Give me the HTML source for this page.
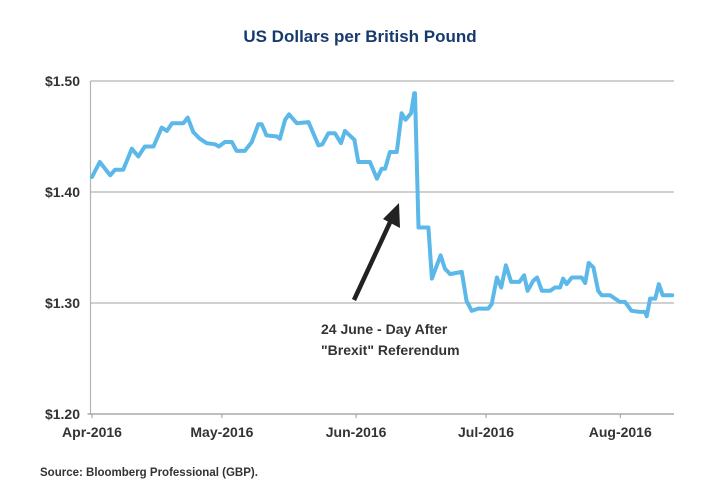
<!DOCTYPE html>
<html><head><meta charset="utf-8"><style>
html,body{margin:0;padding:0;background:#fff;width:720px;height:500px;overflow:hidden}
svg text{font-family:"Liberation Sans",sans-serif}
</style></head><body>
<svg id="chart" width="720" height="500" xmlns="http://www.w3.org/2000/svg">
<text x="360" y="42" text-anchor="middle" font-size="17" font-weight="bold" fill="#173a6e">US Dollars per British Pound</text>
<g id="grid"></g><g id="axes"></g><g id="series"></g>
<g>
<line x1="354" y1="300" x2="392" y2="218" stroke="#222" stroke-width="4.5"/>
<polygon points="399,203 400,228 383,219" fill="#222"/>
<text x="321" y="334" font-size="14" font-weight="bold" fill="#333">24 June - Day After</text>
<text x="321" y="355" font-size="14" font-weight="bold" fill="#333">"Brexit" Referendum</text>
</g>
<text x="40" y="476" font-size="11.5" font-weight="bold" fill="#333">Source: Bloomberg Professional (GBP).</text>
</svg>
<script>
const yTicks=[1.20,1.30,1.40,1.50];
const yTickLabels=["$1.20","$1.30","$1.40","$1.50"];
const xTickDays=[0,30,61,91,122];
const xTickLabels=["Apr-2016","May-2016","Jun-2016","Jul-2016","Aug-2016"];
const days=[0,1.8,4.2,5.3,7.2,9.2,10.7,12.2,14.2,16.1,17.3,18.5,21.1,22.1,23.4,24.9,26.5,28.4,29.3,30.7,32.3,33.4,35.3,36.9,38.4,39.2,40.3,42.7,43.4,44.6,45.5,47.3,50,52.3,53.2,54.6,56.1,57.5,58.4,60.6,61.5,64.2,65.8,66.9,67.7,68.8,70.4,71.5,72.4,73.7,74.4,74.6,75.4,77.7,78.5,80.5,81.5,82.7,85.4,86.5,87.7,89.2,91.5,92.3,93.5,94.5,95.6,96.8,98.7,99.8,100.6,101.9,102.8,103.9,105.8,106.9,108.1,108.8,109.6,110.8,113.1,113.9,114.7,115.8,116.9,117.7,119.6,121.9,123.1,124.6,126.5,127.7,128.1,128.9,130.1,130.9,131.8,134];
const rates=[1.4135,1.427,1.415,1.420,1.420,1.439,1.432,1.441,1.441,1.458,1.455,1.462,1.462,1.467,1.454,1.448,1.444,1.443,1.441,1.445,1.445,1.437,1.437,1.445,1.461,1.461,1.451,1.450,1.448,1.465,1.470,1.462,1.463,1.442,1.443,1.453,1.453,1.444,1.455,1.447,1.427,1.427,1.412,1.421,1.421,1.436,1.436,1.471,1.465,1.471,1.489,1.489,1.368,1.368,1.322,1.343,1.331,1.326,1.328,1.302,1.293,1.295,1.295,1.299,1.323,1.314,1.334,1.319,1.319,1.325,1.311,1.320,1.323,1.311,1.311,1.314,1.314,1.322,1.317,1.323,1.323,1.318,1.336,1.332,1.311,1.307,1.307,1.301,1.301,1.293,1.292,1.292,1.288,1.304,1.304,1.317,1.307,1.307];
const L=90.5,R=674,T=81,B=414,PXD=4.33;
const xS=d=>L+1.5+d*PXD;
const yS=v=>B-(v-1.2)/0.3*(B-T);
const NS="http://www.w3.org/2000/svg";
function mk(tag,attrs,parent){const e=document.createElementNS(NS,tag);for(const k in attrs)e.setAttribute(k,attrs[k]);document.getElementById(parent).appendChild(e);return e;}
yTicks.forEach((v,i)=>{
 if(i>0){const g=mk('line',{x1:L,x2:R,y1:yS(v),y2:yS(v),stroke:'#b3b3b3','stroke-width':1.2},'grid');
 
 }
 const t=mk('text',{x:80,y:yS(v)+5,'text-anchor':'end','font-size':14,'font-weight':'bold',fill:'#333'},'axes');
 t.textContent=yTickLabels[i];
 
 
});
const ya=mk('line',{x1:L,x2:L,y1:T,y2:B,stroke:'#b3b3b3','stroke-width':1.2},'axes');


const xa=mk('line',{x1:L-3,x2:R,y1:B,y2:B,stroke:'#999','stroke-width':1.2},'axes');


xTickDays.forEach((d,i)=>{
 const x=xS(d);
 const tk=mk('line',{x1:x,x2:x,y1:B,y2:B+4,stroke:'#999','stroke-width':1},'axes');
 
 
 const t=mk('text',{x:x,y:B+23,'text-anchor':'middle','font-size':14,'font-weight':'bold',fill:'#333'},'axes');
 t.textContent=xTickLabels[i];
 
 
});
const pts=days.map((d,i)=>xS(d).toFixed(1)+','+yS(rates[i]).toFixed(1)).join(' ');
const pl=mk('polyline',{points:pts,fill:'none',stroke:'#5bb8e8','stroke-width':4,'stroke-linejoin':'round','stroke-linecap':'round'},'series');


</script>
</body></html>
